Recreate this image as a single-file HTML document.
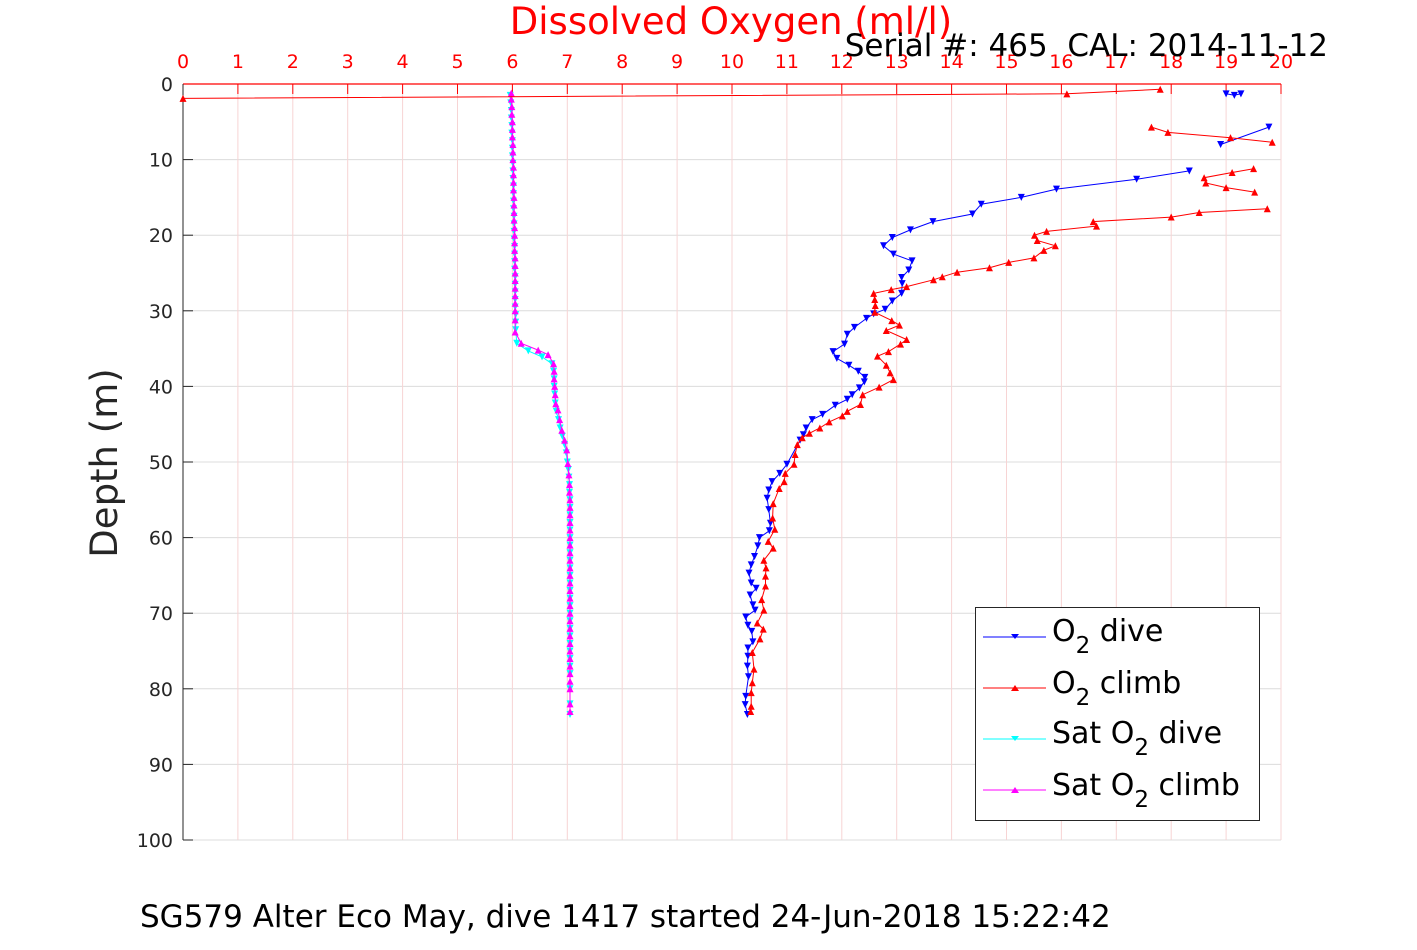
<!DOCTYPE html>
<html><head><meta charset="utf-8"><style>
body{margin:0;background:#fff;width:1417px;height:945px;overflow:hidden}
svg text{font-family:"DejaVu Sans","Liberation Sans",sans-serif}
</style></head><body>
<svg id="chart" width="1417" height="945" xmlns="http://www.w3.org/2000/svg"></svg>
<script>
const xTicks=[0,1,2,3,4,5,6,7,8,9,10,11,12,13,14,15,16,17,18,19,20];
const yTicks=[0,10,20,30,40,50,60,70,80,90,100];
// O2 dive (blue), segments separated by null
const diveO2=[19.0,19.15,19.27,null,19.78,18.9,null,18.33,17.37,15.91,15.27,14.54,14.38,13.66,13.25,12.92,12.76,12.94,13.28,13.22,13.09,13.1,13.09,12.92,12.79,12.58,12.45,12.23,12.1,12.05,11.84,11.91,12.13,12.3,12.42,12.41,12.32,12.19,12.1,11.88,11.65,11.46,11.35,11.3,11.24,11.0,10.87,10.73,10.67,10.64,10.67,10.7,10.68,10.5,10.47,10.41,10.35,10.31,10.35,10.44,10.33,10.38,10.42,10.25,10.29,10.36,10.38,10.29,10.29,10.28,10.3,10.25,10.24,10.28];
const diveDepth=[1.3,1.5,1.3,null,5.7,8.0,null,11.5,12.6,13.9,15.0,15.9,17.2,18.2,19.3,20.3,21.4,22.5,23.4,24.6,25.6,26.4,27.7,28.7,29.8,30.4,31.0,32.2,33.1,34.4,35.4,36.3,37.2,38.0,38.8,39.4,40.2,41.1,41.7,42.5,43.7,44.4,45.5,46.4,47.1,50.3,51.5,52.6,53.7,54.8,56.3,58.1,59.1,60.0,61.1,62.5,63.6,64.7,66.0,66.7,67.6,68.9,69.6,70.5,71.6,72.4,73.8,74.6,75.7,77.0,78.4,81.0,82.1,83.4];
// O2 climb (red)
const climbO2=[0,16.1,17.8,null,17.64,17.94,19.08,19.84,null,19.5,19.11,18.6,18.63,19.0,19.52,null,19.75,18.51,18.0,16.58,16.64,15.73,15.51,15.56,15.89,15.68,15.5,15.04,14.69,14.1,13.83,13.67,13.18,12.9,12.58,12.6,12.61,12.6,12.91,13.05,12.81,13.18,13.07,12.85,12.65,12.81,12.88,12.94,12.68,12.38,12.34,12.1,12.01,11.77,11.6,11.41,11.28,11.19,11.15,11.13,10.97,10.95,10.86,10.75,10.74,10.78,10.66,10.75,10.58,10.62,10.61,10.61,10.54,10.58,10.46,10.57,10.51,10.37,10.4,10.37,10.35,10.35,10.34];
const climbDepth=[1.9,1.3,0.7,null,5.7,6.4,7.1,7.7,null,11.2,11.7,12.4,13.1,13.7,14.3,null,16.5,17.0,17.6,18.2,18.8,19.5,20.0,20.7,21.4,22.0,23.0,23.6,24.3,24.9,25.5,25.9,26.8,27.2,27.7,28.5,29.3,30.2,31.3,31.9,32.6,33.8,34.4,35.4,36.0,37.2,38.2,39.1,40.1,41.1,42.4,43.3,43.9,44.7,45.5,46.2,46.8,47.7,49.0,50.3,51.5,52.6,53.5,55.5,57.4,58.9,60.5,61.4,63.0,64.0,65.1,66.4,68.2,69.6,71.3,72.1,73.4,75.2,77.4,79.2,80.5,82.3,83.0];
// Sat O2 dive (cyan)
const satDiveO2=[5.96,5.97,5.98,5.98,5.99,5.99,6.0,6.0,6.0,6.01,6.01,6.01,6.02,6.02,6.02,6.02,6.03,6.03,6.03,6.03,6.04,6.04,6.04,6.04,6.05,6.05,6.05,6.05,6.05,6.06,6.06,6.06,6.08,6.29,6.54,6.72,6.75,6.76,6.76,6.77,6.78,6.8,6.84,6.87,6.91,6.95,6.98,7.0,7.02,7.03,7.04,7.04,7.05,7.05,7.05,7.05,7.05,7.05,7.05,7.05,7.05,7.05,7.05,7.05,7.05,7.05,7.05,7.05,7.05,7.05,7.05,7.05,7.05,7.05,7.05,7.05,7.05,7.05,7.05];
const satDiveDepth=[1.5,2.5,3.5,4.5,5.5,6.5,7.5,8.5,9.5,10.5,11.5,12.5,13.5,14.5,15.5,16.5,17.5,18.5,19.5,20.5,21.5,22.5,23.5,24.5,25.5,26.5,27.5,28.5,29.5,30.5,31.5,32.5,34.3,35.3,36.1,37.0,38.0,39.0,40.0,41.0,42.2,43.3,44.4,45.5,46.6,47.7,48.8,50,51,52,53,54,55,56,57,58,59,60,61,62,63,64,65,66,67,68,69,70,71,72,73,74,75,76,77,78,80,82,83.4];
// Sat O2 climb (magenta)
const satClimbO2=[5.98,5.98,5.99,5.99,6.0,6.0,6.0,6.01,6.01,6.01,6.02,6.02,6.02,6.02,6.03,6.03,6.03,6.03,6.04,6.04,6.04,6.04,6.05,6.05,6.05,6.05,6.05,6.05,6.05,6.05,6.05,6.05,6.16,6.47,6.65,6.75,6.76,6.76,6.77,6.78,6.79,6.83,6.86,6.9,6.95,6.99,7.01,7.03,7.04,7.04,7.05,7.05,7.05,7.05,7.05,7.05,7.05,7.05,7.05,7.05,7.05,7.05,7.05,7.05,7.05,7.05,7.05,7.05,7.05,7.05,7.05,7.05,7.05,7.05,7.05,7.05,7.05,7.05];
const satClimbDepth=[1.2,2,3,4,5,6,7,8,9,10,11,12,13,14,15,16,17,18,19,20,21,22,23,24,25,26,27,28,29,30,31.2,32.8,34.3,35.2,35.8,37.0,38.0,39.0,40.0,41.1,42.3,43.1,44.4,45.8,47.1,48.4,50.2,51.7,53,54,55,56,57,58,59,60,61,62,63,64,65,66,67,68,69,70,71,72,73,74,75,76,77,78,79,80,82,83];

const NS="http://www.w3.org/2000/svg";
const svg=document.getElementById('chart');
const L=183,R=1281,T=84,B=840;
const X=v=>L+(R-L)*v/20;
const Y=d=>T+(B-T)*d/100;
function mk(tag,attrs,parent){const e=document.createElementNS(NS,tag);for(const k in attrs)e.setAttribute(k,attrs[k]);(parent||svg).appendChild(e);return e;}

const grid=mk('g',{});


yTicks.forEach(t=>{
  const l=mk('line',{x1:L,x2:R,y1:Y(t),y2:Y(t),stroke:'#dcdcdc','stroke-width':1},grid);
  
  
  const tk=mk('line',{x1:L,x2:L+10,y1:Y(t),y2:Y(t),stroke:'#262626','stroke-width':1},grid);
  
  
  const tx=mk('text',{x:L-10,y:Y(t)+7,'text-anchor':'end','font-size':19,fill:'#262626'},grid);
  tx.textContent=t;
  
  
});
xTicks.forEach(t=>{
  const l=mk('line',{x1:X(t),x2:X(t),y1:T,y2:B,stroke:'#f7d4d4','stroke-width':1},grid);
  
  
  const tk=mk('line',{x1:X(t),x2:X(t),y1:T,y2:T+10,stroke:'#ff0000','stroke-width':1},grid);
  
  
  const tx=mk('text',{x:X(t),y:T-16,'text-anchor':'middle','font-size':19,fill:'#ff0000'},grid);
  tx.textContent=t;
  
  
});
const ax=mk('line',{x1:L,x2:R,y1:T,y2:T,stroke:'#ff0000','stroke-width':1.2});


const ay=mk('line',{x1:L,x2:L,y1:T,y2:B,stroke:'#262626','stroke-width':1});



function series(vals,deps,color,down,name){
  const g=mk('g',{});
  
  
  let d='',pen=false;
  for(let i=0;i<vals.length;i++){
    if(vals[i]===null){pen=false;continue;}
    d+=(pen?'L':'M')+X(vals[i]).toFixed(1)+','+Y(deps[i]).toFixed(1);pen=true;
  }
  const p=mk('path',{d:d,fill:'none',stroke:color,'stroke-width':1},g);
  
  
  for(let i=0;i<vals.length;i++){
    if(vals[i]===null)continue;
    const x=X(vals[i]),y=Y(deps[i]),s=3.5;
    const pts=down?`${x-s},${y-s} ${x+s},${y-s} ${x},${y+s}`:`${x-s},${y+s} ${x+s},${y+s} ${x},${y-s}`;
    const m=mk('polygon',{points:pts,fill:color},g);
    
    
  }
}
series(satDiveO2,satDiveDepth,'#00ffff',true,'sat-o2-dive');
series(satClimbO2,satClimbDepth,'#ff00ff',false,'sat-o2-climb');
series(diveO2,diveDepth,'#0000ff',true,'o2-dive');
series(climbO2,climbDepth,'#ff0000',false,'o2-climb');
</script>
<svg style="position:absolute;left:0;top:0" width="1417" height="945" xmlns="http://www.w3.org/2000/svg">
<text x="731" y="34" text-anchor="middle" font-size="37" fill="#ff0000">Dissolved Oxygen (ml/l)</text>
<text x="1328" y="56" text-anchor="end" font-size="31" fill="#000">Serial #: 465&#160; CAL: 2014-11-12</text>
<text transform="translate(117,463) rotate(-90)" text-anchor="middle" font-size="37" fill="#262626">Depth (m)</text>
<text x="140" y="927" font-size="31" fill="#000">SG579 Alter Eco May, dive 1417 started 24-Jun-2018 15:22:42</text>
<g>
<rect x="975.5" y="607.5" width="284" height="213" fill="#fff" stroke="#262626" stroke-width="1"/>
<g><line x1="983" x2="1046" y1="637" y2="637" stroke="#0000ff"/><polygon points="1011,634 1019,634 1015,639" fill="#0000ff"/><text x="1052" y="641" font-size="30">O<tspan font-size="23" dy="12">2</tspan><tspan dy="-12"> dive</tspan></text></g>
<g><line x1="983" x2="1046" y1="688" y2="688" stroke="#ff0000"/><polygon points="1011,691 1019,691 1015,685" fill="#ff0000"/><text x="1052" y="693" font-size="30">O<tspan font-size="23" dy="12">2</tspan><tspan dy="-12"> climb</tspan></text></g>
<g><line x1="983" x2="1046" y1="739" y2="739" stroke="#00ffff"/><polygon points="1011,736 1019,736 1015,741" fill="#00ffff"/><text x="1052" y="743" font-size="30">Sat O<tspan font-size="23" dy="12">2</tspan><tspan dy="-12"> dive</tspan></text></g>
<g><line x1="983" x2="1046" y1="790" y2="790" stroke="#ff00ff"/><polygon points="1011,793 1019,793 1015,787" fill="#ff00ff"/><text x="1052" y="795" font-size="30">Sat O<tspan font-size="23" dy="12">2</tspan><tspan dy="-12"> climb</tspan></text></g>
</g>
</svg>
</body></html>
